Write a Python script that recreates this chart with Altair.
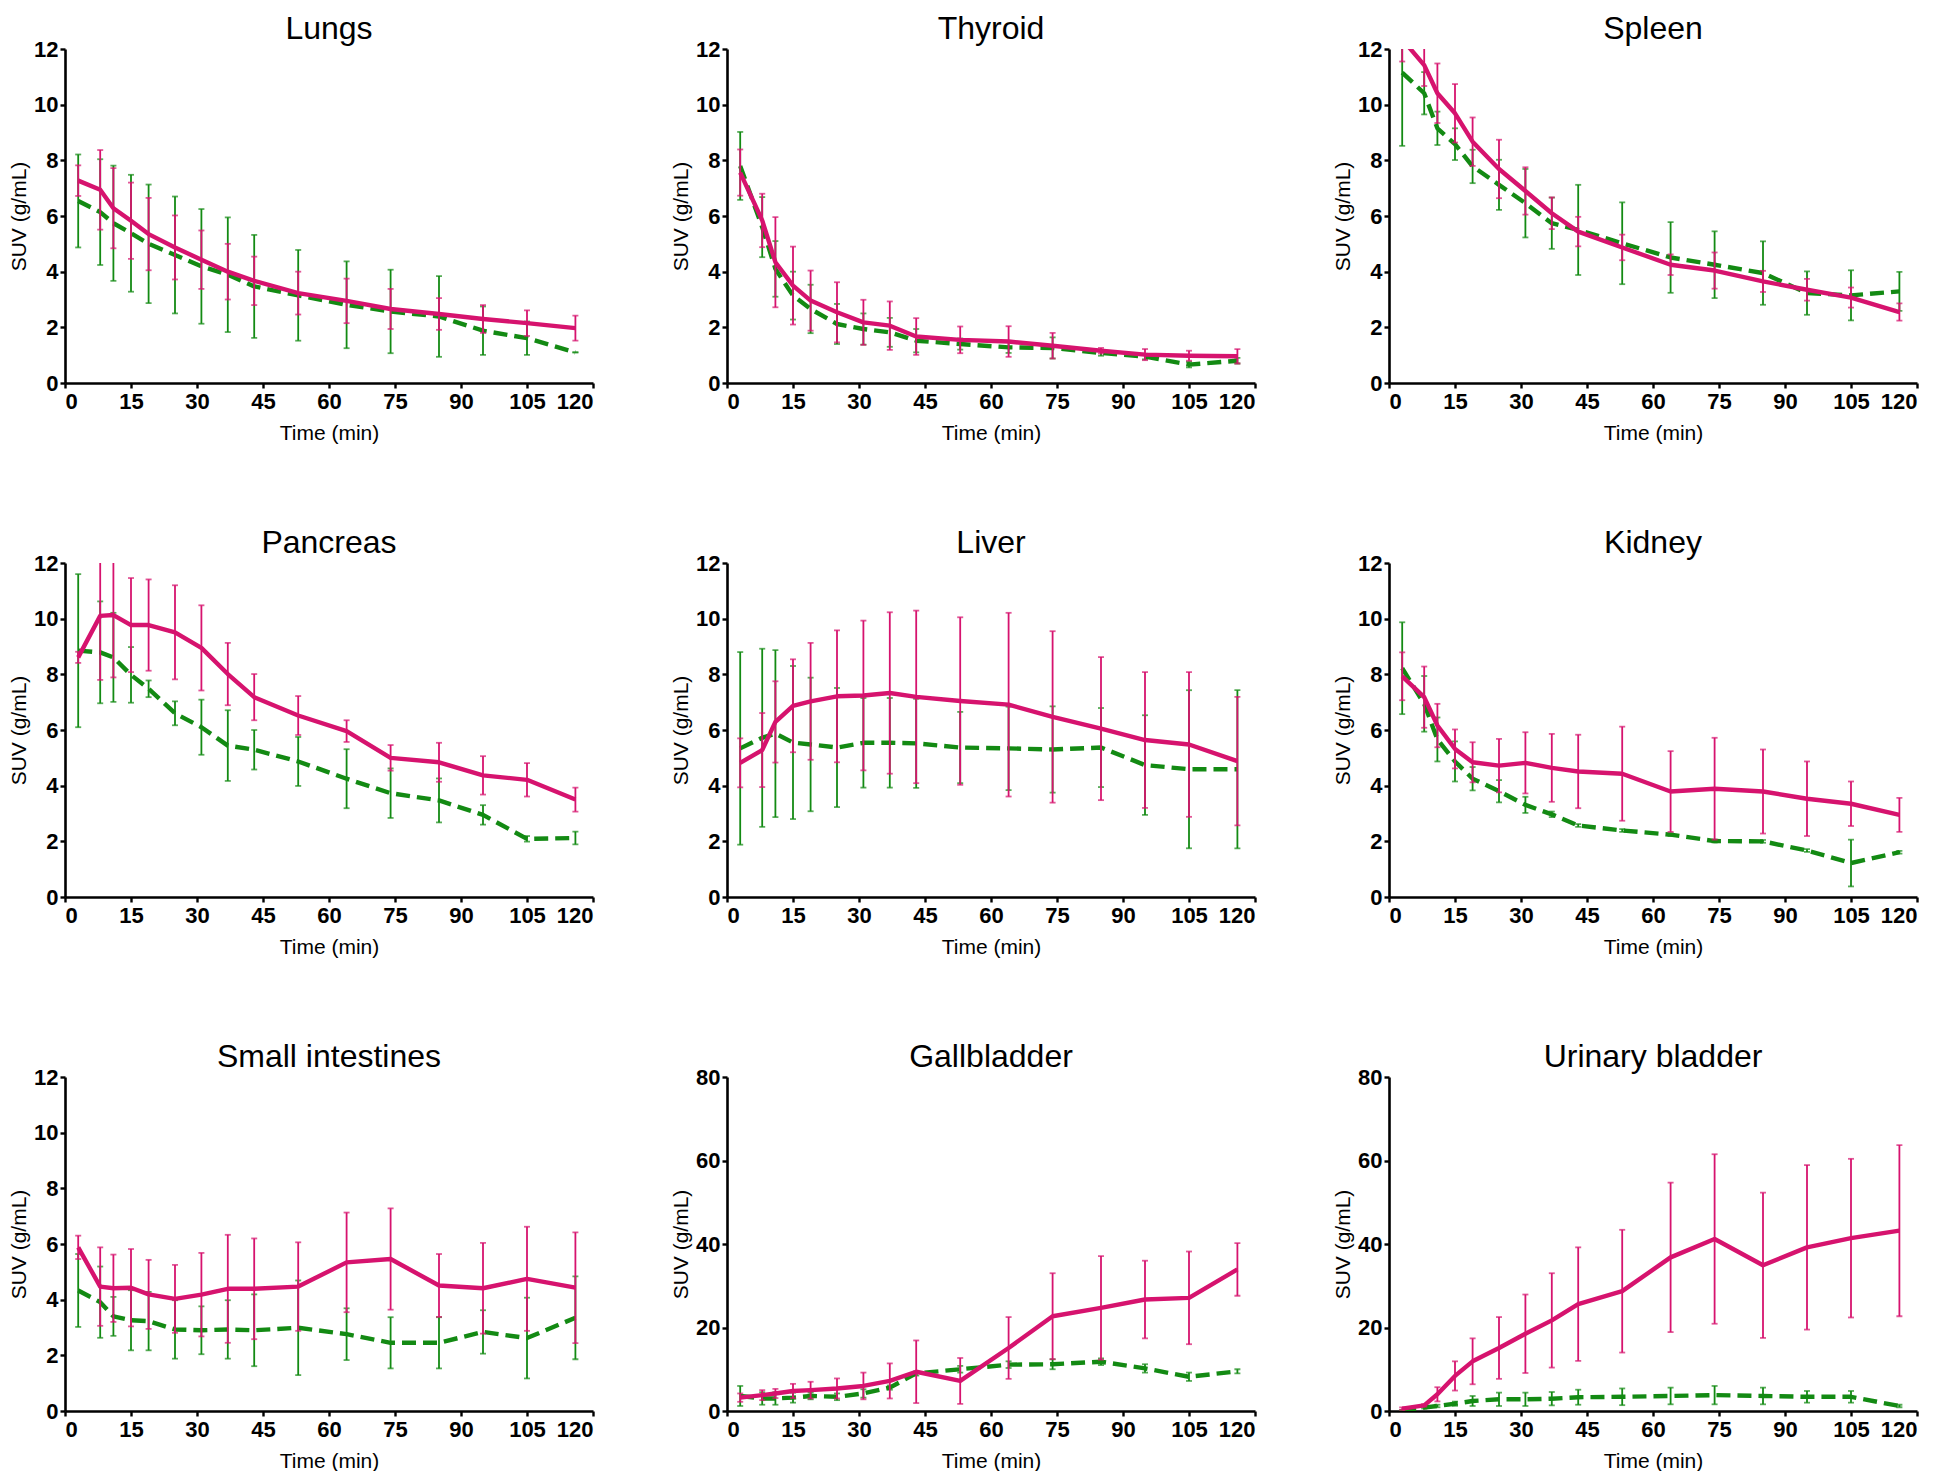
import altair as alt
import pandas as pd

times = [3, 8, 11, 15, 19, 25, 31, 37, 43, 53, 64, 74, 85, 95, 105, 116]

organs = ["Lungs", "Thyroid", "Spleen", "Pancreas", "Liver", "Kidney",
          "Small intestines", "Gallbladder", "Urinary bladder"]
y_max = [12, 12, 12, 12, 12, 12, 12, 80, 80]

# magenta (solid) series: mean and SD
lungs_m = [7.27, 6.94, 6.28, 5.83, 5.35, 4.87, 4.43, 4.0, 3.67, 3.23, 2.95, 2.66, 2.48, 2.30, 2.15, 1.97]
lungs_m_sd = [0.55, 1.43, 1.44, 1.37, 1.30, 1.15, 1.05, 1.0, 0.87, 0.77, 0.80, 0.72, 0.57, 0.50, 0.46, 0.45]
thyroid_m = [7.56, 5.84, 4.34, 3.5, 2.96, 2.54, 2.18, 2.06, 1.67, 1.55, 1.49, 1.34, 1.16, 1.02, 0.98, 0.96]
thyroid_m_sd = [0.83, 0.96, 1.62, 1.4, 1.08, 1.08, 0.81, 0.87, 0.66, 0.48, 0.55, 0.46, 0.10, 0.20, 0.18, 0.26]
spleen_m = [12.35, 11.42, 10.41, 9.69, 8.67, 7.69, 6.9, 6.1, 5.44, 4.87, 4.25, 4.04, 3.65, 3.35, 3.07, 2.55]
spleen_m_sd = [0.8, 0.75, 1.07, 1.05, 0.87, 1.05, 0.85, 0.57, 0.53, 0.46, 0.37, 0.65, 0.38, 0.39, 0.36, 0.31]
pancreas_m = [8.61, 10.1, 10.13, 9.77, 9.77, 9.51, 8.95, 8.01, 7.18, 6.52, 5.96, 5.0, 4.84, 4.37, 4.21, 3.5]
pancreas_m_sd = [0.2, 2.3, 2.24, 1.69, 1.64, 1.69, 1.53, 1.12, 0.83, 0.7, 0.39, 0.46, 0.7, 0.69, 0.6, 0.43]
liver_m = [4.82, 5.28, 6.29, 6.87, 7.03, 7.21, 7.24, 7.33, 7.19, 7.04, 6.91, 6.47, 6.05, 5.64, 5.48, 4.88]
liver_m_sd = [0.88, 1.33, 1.46, 1.67, 2.1, 2.37, 2.69, 2.9, 3.1, 3.01, 3.3, 3.08, 2.57, 2.44, 2.6, 2.31]
kidney_m = [7.93, 7.18, 6.16, 5.32, 4.84, 4.72, 4.82, 4.64, 4.51, 4.43, 3.79, 3.89, 3.79, 3.53, 3.35, 2.95]
kidney_m_sd = [0.86, 1.1, 0.78, 0.7, 0.72, 0.96, 1.1, 1.22, 1.32, 1.69, 1.45, 1.83, 1.51, 1.34, 0.8, 0.61]
intest_m = [5.88, 4.47, 4.41, 4.43, 4.19, 4.03, 4.18, 4.39, 4.39, 4.47, 5.34, 5.46, 4.51, 4.41, 4.75, 4.43]
intest_m_sd = [0.42, 1.41, 1.21, 1.39, 1.24, 1.22, 1.5, 1.94, 1.81, 1.59, 1.79, 1.82, 1.13, 1.63, 1.87, 1.99]
gall_m = [3.2, 3.8, 4.2, 4.8, 5.0, 5.4, 6.0, 7.2, 9.4, 7.2, 15.1, 22.7, 24.7, 26.7, 27.1, 33.9]
gall_m_sd = [1.0, 1.2, 1.1, 1.7, 2.0, 2.4, 3.2, 4.2, 7.5, 5.5, 7.4, 10.3, 12.4, 9.3, 11.1, 6.3]
bladder_m = [0.56, 1.35, 4.0, 8.4, 11.9, 15.1, 18.5, 21.7, 25.6, 28.7, 36.8, 41.2, 34.9, 39.2, 41.4, 43.2]
bladder_m_sd = [0.3, 0.3, 1.7, 3.5, 5.5, 7.4, 9.4, 11.3, 13.6, 14.7, 17.9, 20.3, 17.4, 19.7, 19.0, 20.5]

# green (dashed) series: mean and SD
lungs_g = [6.54, 6.14, 5.74, 5.38, 5.0, 4.6, 4.19, 3.89, 3.47, 3.15, 2.81, 2.57, 2.39, 1.88, 1.61, 1.1]
lungs_g_sd = [1.67, 1.9, 2.07, 2.1, 2.13, 2.1, 2.06, 2.06, 1.85, 1.63, 1.56, 1.5, 1.45, 0.87, 0.6, 0.0]
thyroid_g = [7.8, 5.6, 4.1, 3.14, 2.66, 2.12, 1.94, 1.82, 1.52, 1.4, 1.28, 1.26, 1.08, 0.95, 0.66, 0.8]
thyroid_g_sd = [1.22, 1.08, 1.0, 0.86, 0.87, 0.72, 0.56, 0.52, 0.42, 0.2, 0.2, 0.38, 0.1, 0.1, 0.1, 0.1]
spleen_g = [11.15, 10.41, 9.15, 8.58, 7.78, 7.12, 6.46, 5.74, 5.5, 5.02, 4.51, 4.25, 3.95, 3.23, 3.15, 3.29]
spleen_g_sd = [2.63, 0.76, 0.6, 0.57, 0.6, 0.9, 1.23, 0.92, 1.62, 1.47, 1.27, 1.2, 1.14, 0.78, 0.9, 0.7]
pancreas_g = [8.85, 8.79, 8.61, 7.98, 7.48, 6.6, 6.1, 5.44, 5.29, 4.87, 4.25, 3.73, 3.47, 2.95, 2.09, 2.12]
pancreas_g_sd = [2.75, 1.83, 1.6, 1.0, 0.3, 0.43, 0.99, 1.27, 0.71, 0.88, 1.06, 0.89, 0.79, 0.35, 0.1, 0.23]
liver_g = [5.34, 5.72, 5.87, 5.55, 5.48, 5.37, 5.54, 5.54, 5.52, 5.37, 5.34, 5.3, 5.37, 4.74, 4.59, 4.59]
liver_g_sd = [3.46, 3.2, 3.0, 2.75, 2.4, 2.14, 1.61, 1.61, 1.6, 1.28, 1.5, 1.55, 1.42, 1.79, 2.84, 2.84]
kidney_g = [8.22, 6.94, 5.66, 4.87, 4.25, 3.8, 3.31, 2.97, 2.57, 2.39, 2.24, 2.01, 2.0, 1.67, 1.22, 1.61]
kidney_g_sd = [1.65, 1.0, 0.79, 0.72, 0.42, 0.4, 0.29, 0.1, 0.05, 0.05, 0.05, 0.05, 0.05, 0.05, 0.84, 0.05]
intest_g = [4.33, 3.91, 3.4, 3.26, 3.23, 2.93, 2.9, 2.93, 2.9, 2.99, 2.76, 2.45, 2.45, 2.84, 2.62, 3.35]
intest_g_sd = [1.31, 1.28, 0.7, 1.08, 1.05, 1.05, 0.86, 1.05, 1.29, 1.7, 0.93, 0.92, 0.92, 0.78, 1.45, 1.49]
gall_g = [3.6, 3.0, 3.0, 3.2, 3.6, 3.4, 4.2, 5.6, 9.0, 10.0, 11.1, 11.2, 11.8, 10.2, 8.2, 9.5]
gall_g_sd = [2.4, 1.5, 1.5, 1.2, 0.8, 0.8, 1.0, 0.5, 0.5, 0.8, 0.8, 1.2, 0.8, 1.0, 1.0, 0.5]
bladder_g = [0.15, 0.8, 1.2, 1.75, 2.4, 2.8, 2.8, 2.95, 3.3, 3.4, 3.6, 3.8, 3.6, 3.4, 3.4, 1.2]
bladder_g_sd = [0.1, 0.2, 0.3, 0.5, 1.2, 1.6, 1.6, 1.6, 1.8, 2.0, 2.0, 2.2, 2.0, 1.4, 1.4, 0.3]

series = {
    "Lungs": (lungs_m, lungs_m_sd, lungs_g, lungs_g_sd),
    "Thyroid": (thyroid_m, thyroid_m_sd, thyroid_g, thyroid_g_sd),
    "Spleen": (spleen_m, spleen_m_sd, spleen_g, spleen_g_sd),
    "Pancreas": (pancreas_m, pancreas_m_sd, pancreas_g, pancreas_g_sd),
    "Liver": (liver_m, liver_m_sd, liver_g, liver_g_sd),
    "Kidney": (kidney_m, kidney_m_sd, kidney_g, kidney_g_sd),
    "Small intestines": (intest_m, intest_m_sd, intest_g, intest_g_sd),
    "Gallbladder": (gall_m, gall_m_sd, gall_g, gall_g_sd),
    "Urinary bladder": (bladder_m, bladder_m_sd, bladder_g, bladder_g_sd),
}

PINK = "#D6136E"
GREEN = "#138A13"

rows = []
for organ, (pm, ps, gm, gs) in series.items():
    for i, t in enumerate(times):
        rows.append(dict(organ=organ, grp="green", t=t, mean=gm[i], lo=gm[i] - gs[i], hi=gm[i] + gs[i]))
        rows.append(dict(organ=organ, grp="pink", t=t, mean=pm[i], lo=pm[i] - ps[i], hi=pm[i] + ps[i]))
df = pd.DataFrame(rows)

FONT = "Liberation Sans"


def panel(organ, ymax):
    step = 2 if ymax == 12 else 20
    xs = alt.Scale(domain=[0, 120], nice=False)
    ys = alt.Scale(domain=[0, ymax], nice=False)
    xax = alt.Axis(values=list(range(0, 121, 15)), title="Time (min)")
    yax = alt.Axis(values=list(range(0, ymax + 1, step)), title="SUV (g/mL)")
    base = alt.Chart(df).transform_filter(alt.datum.organ == organ)
    layers = []
    for grp, col in [("green", GREEN), ("pink", PINK)]:
        b = base.transform_filter(alt.datum.grp == grp)
        line_kw = dict(clip=True, strokeWidth=4.4, color=col, strokeJoin="round")
        if grp == "green":
            line_kw["strokeDash"] = [14, 7]
        line = b.mark_line(**line_kw).encode(
            x=alt.X("t:Q", scale=xs, axis=xax),
            y=alt.Y("mean:Q", scale=ys, axis=yax),
        )
        rule = b.mark_rule(clip=True, strokeWidth=1.8, color=col).encode(
            x=alt.X("t:Q", scale=xs, axis=xax),
            y=alt.Y("lo:Q", scale=ys, axis=yax),
            y2="hi:Q",
        )
        cap_hi = b.mark_tick(clip=True, orient="horizontal", size=6, thickness=1.8, color=col).encode(
            x=alt.X("t:Q", scale=xs, axis=xax),
            y=alt.Y("hi:Q", scale=ys, axis=yax),
        )
        cap_lo = b.mark_tick(clip=True, orient="horizontal", size=6, thickness=1.8, color=col).encode(
            x=alt.X("t:Q", scale=xs, axis=xax),
            y=alt.Y("lo:Q", scale=ys, axis=yax),
        )
        layers += [line, rule, cap_hi, cap_lo]
    return alt.layer(*layers).properties(
        width=528, height=334,
        title=alt.TitleParams(organ, fontSize=32, font=FONT, fontWeight="normal",
                              color="black", offset=-8, anchor="middle"),
    )


grid_rows = []
for r in range(3):
    grid_rows.append(alt.hconcat(*[panel(organs[3 * r + c], y_max[3 * r + c]) for c in range(3)], spacing=75))

chart = alt.vconcat(*grid_rows, spacing=84).properties(
    padding={"left": 0, "top": 5, "right": 0, "bottom": 0}
).configure_view(stroke=None).configure_axis(
    grid=False,
    domainColor="black", domainWidth=2.6,
    tickColor="black", tickWidth=2.4, tickSize=5,
    labelFont=FONT, labelFontWeight="bold", labelFontSize=22, labelColor="black",
    titleFont=FONT, titleFontWeight="normal", titleFontSize=21, titleColor="black",
).configure_axisX(labelPadding=3, titlePadding=10).configure_axisY(labelPadding=2, titlePadding=4)

chart.save("out.html", embed_options={"renderer": "svg", "actions": False})
